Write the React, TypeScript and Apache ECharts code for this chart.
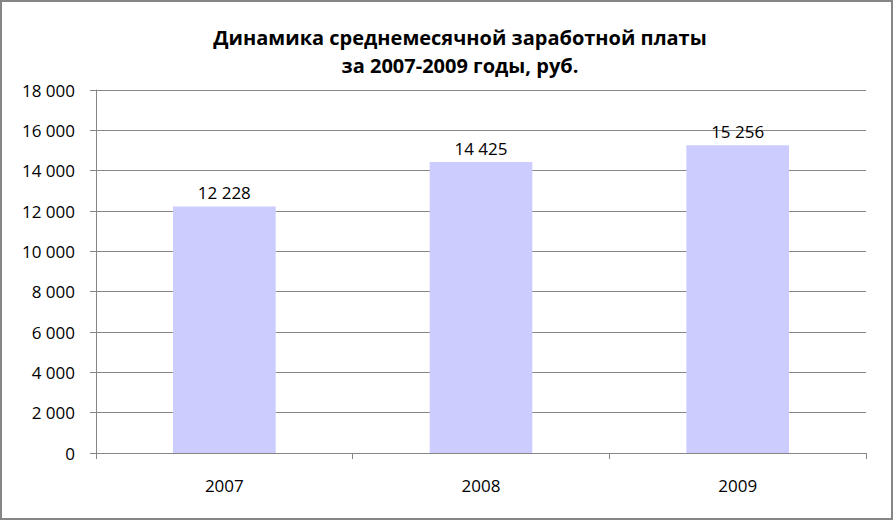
import React, { useEffect, useRef } from "react";
import * as echarts from "echarts";

const categories = ["2007", "2008", "2009"];
const values = [12228, 14425, 15256];
const titleLines = ["Динамика среднемесячной заработной платы", "за 2007-2009 годы, руб."];

const fmt = (v: number) => {
  const s = String(Math.round(v));
  return s.replace(/\B(?=(\d{3})+(?!\d))/g, " ");
};

export default function App() {
  const ref = useRef<HTMLDivElement>(null);
  useEffect(() => {
    const chart = echarts.init(ref.current!, null, { renderer: "svg" });
    const font = "'Open Sans', 'Noto Sans', sans-serif";
    chart.setOption({
      animation: false,
      backgroundColor: "#ffffff",
      title: {
        text: titleLines.join("\n"),
        left: 455,
        top: 18,
        textAlign: "center",
        textStyle: {
          fontFamily: font,
          fontSize: 20,
          fontWeight: "bold",
          color: "#000",
          lineHeight: 28,
        },
      },
      grid: { left: 96, right: 28, top: 90, bottom: 68, containLabel: false },
      xAxis: {
        type: "category",
        data: categories,
        axisLine: { lineStyle: { color: "#868686", width: 1 } },
        axisTick: { show: true, length: 6, lineStyle: { color: "#868686" } },
        axisLabel: { color: "#000", fontFamily: font, fontSize: 17, margin: 24 },
      },
      yAxis: {
        type: "value",
        min: 0,
        max: 18000,
        interval: 2000,
        axisLine: { show: true, lineStyle: { color: "#868686", width: 1 } },
        axisTick: { show: true, length: 6, lineStyle: { color: "#868686" } },
        splitLine: { lineStyle: { color: "#868686", width: 1 } },
        axisLabel: {
          color: "#000",
          fontFamily: font,
          fontSize: 17,
          margin: 21,
          formatter: (v: number) => fmt(v),
        },
      },
      series: [
        {
          type: "bar",
          data: values,
          barWidth: "40%",
          itemStyle: { color: "#ccccff" },
          label: {
            show: true,
            position: "top",
            distance: 5,
            color: "#000",
            fontFamily: font,
            fontSize: 17,
            formatter: (p: any) => fmt(p.value),
          },
        },
      ],
      graphic: [
        {
          type: "rect",
          shape: { x: 1, y: 1, width: 891, height: 518 },
          style: { fill: "none", stroke: "#868686", lineWidth: 2 },
          silent: true,
          z: 100,
        },
      ],
    });
    return () => chart.dispose();
  }, []);
  return (
    <div
      ref={ref}
      style={{ position: "absolute", left: 0, top: 0, width: 894, height: 521 }}
    />
  );
}
